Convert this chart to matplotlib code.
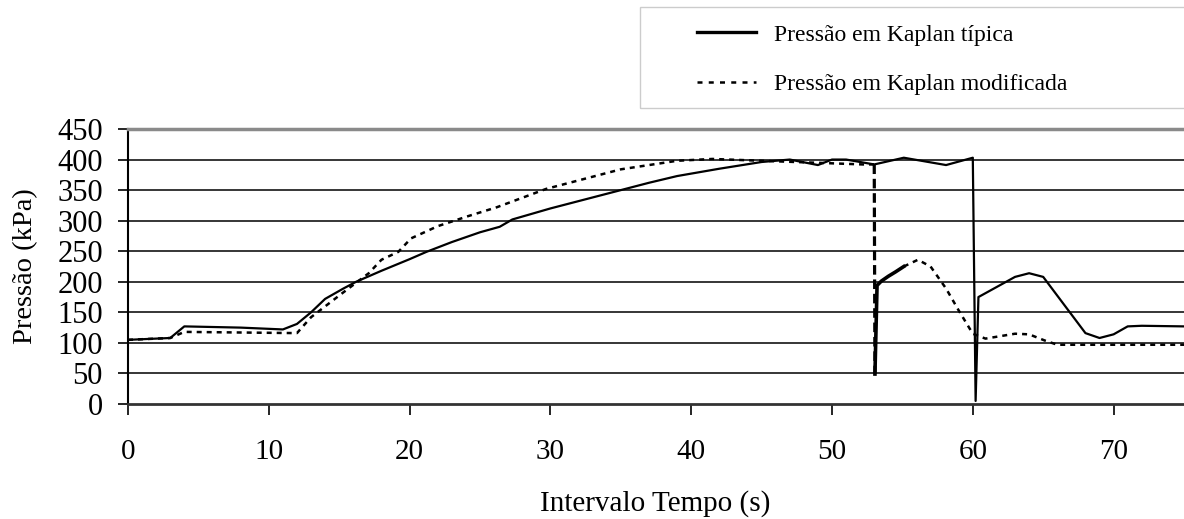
import matplotlib
matplotlib.use('Agg')
import matplotlib.pyplot as plt
from matplotlib.patches import Rectangle
from matplotlib.lines import Line2D

plt.rcParams['font.family'] = ['Liberation Serif', 'DejaVu Serif']

# Pressão em Kaplan típica
tip_t = [0, 3, 4, 6, 8, 10, 11, 12, 13, 14, 15.3, 16.2, 18, 20, 21.2, 23, 25, 26.4, 27.3, 30,
         33, 35, 37, 39, 42, 45, 47, 49, 50, 51, 53, 55.1, 58.1, 60, 60.2, 60.4, 63, 64, 65,
         68, 69, 70, 71, 72, 75]
tip_p = [105, 108, 127, 126, 125, 123, 122, 131, 150, 172, 189, 200, 218, 237, 249, 265, 281, 290, 302, 320,
         338, 350, 362, 373, 385, 396, 400, 391, 400, 400, 392, 403, 391, 403, 5, 175, 208, 214, 208,
         116, 108, 114, 127, 128, 127]

# Pressão em Kaplan modificada (em trechos)
mod_t = [0, 3, 4, 8, 12, 13, 15.2, 17.1, 18, 19.2, 20.1, 22, 24.1, 26.2, 29.7, 35, 39, 41.5, 45,
         48.6, 52.2, 53]
mod_p = [105, 108, 118, 117, 116, 142, 181, 214, 236, 249, 271, 291, 307, 322, 352, 384, 398, 401, 398,
         395, 392, 392]
queda_t = [53, 53.05]
queda_p = [392, 49]
salto_t = [53.05, 53.2, 53.5, 54, 54.5, 55.1]
salto_p = [49, 194, 201, 209, 216, 225]
fim_t = [55.1, 56.1, 57, 58.1, 59, 60, 60.9, 63, 64, 65.1, 66, 75]
fim_p = [225, 236, 225, 189, 153, 115, 107, 115, 114, 104, 97, 97]

fig = plt.figure(figsize=(11.84, 5.19), dpi=100)
ax = fig.add_axes([128/1184, 115/519, 1 - 128/1184, 275/519])

for y in range(50, 450, 50):
    ax.axhline(y, color='black', lw=1.1, zorder=1)

ax.plot(mod_t, mod_p, color='black', lw=1.8, ls=(0, (2, 2)), zorder=2)
ax.plot(queda_t, queda_p, color='black', lw=2.3, ls=(0, (3, 1.5)), zorder=2)
ax.plot(salto_t, salto_p, color='black', lw=2.6, zorder=2)
ax.plot(fim_t, fim_p, color='black', lw=1.8, ls=(0, (2, 2)), zorder=2)
ax.plot(tip_t, tip_p, color='black', lw=1.6, zorder=3)

ax.set_xlim(0, 75)
ax.set_ylim(0, 450)
ax.set_xticks(range(0, 80, 10))
ax.set_yticks(range(0, 500, 50))
ax.tick_params(axis='x', length=8, width=1.2, pad=17, labelsize=21, direction='out')
ax.tick_params(axis='y', length=7, width=1.2, pad=11, labelsize=22, direction='out')

ax.spines['right'].set_visible(False)
ax.spines['top'].set_color('#8a8a8a')
ax.spines['top'].set_linewidth(2.5)
ax.spines['left'].set_color('black')
ax.spines['left'].set_linewidth(1.5)
ax.spines['bottom'].set_color('#333333')
ax.spines['bottom'].set_linewidth(2)

ax.set_ylabel('Pressão (kPa)', fontsize=20.5, labelpad=14)
fig.text(655/1184, 2/519, 'Intervalo Tempo (s)', ha='center', va='bottom', fontsize=21)

# caixa da legenda
fig.patches.append(Rectangle((640/1184, 1 - 108/519), 1 - 640/1184 + 0.01, 101/519,
                             transform=fig.transFigure, fill=False, edgecolor='#cccccc', lw=1))
handles = [Line2D([], [], color='black', lw=2.4),
           Line2D([], [], color='black', lw=1.8, ls=(0, (2, 2.5)))]
fig.legend(handles, ['Pressão em Kaplan típica', 'Pressão em Kaplan modificada'],
           loc='upper left', bbox_to_anchor=(697/1184, 1 - 24/519), frameon=False,
           fontsize=17, handlelength=2.5, handletextpad=0.75, labelspacing=1.2,
           borderpad=0, borderaxespad=0)

fig.savefig('out.png', dpi=100)
